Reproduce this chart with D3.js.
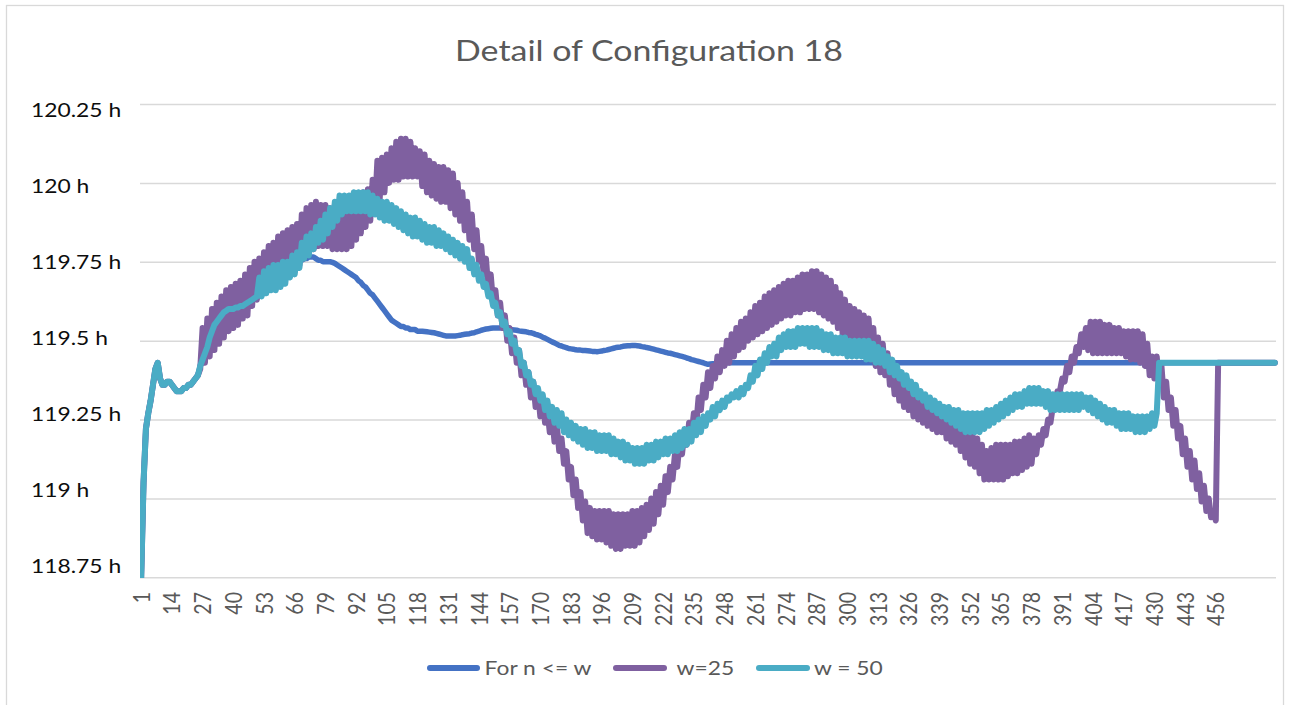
<!DOCTYPE html>
<html>
<head>
<meta charset="utf-8">
<script src="https://cdn.jsdelivr.net/npm/d3@7"></script>
<style>
  html, body { margin: 0; padding: 0; background: #ffffff; }
  svg { display: block; }
  text { font-family: Lato, "Open Sans", sans-serif; }
</style>
</head>
<body>
<svg id="chart" width="1291" height="705"></svg>
<script>
// ---- chart values -------------------------------------------------------
const chartTitle = "Detail of Configuration 18";
const seriesNames = ["For n <= w", "w=25", "w = 50"];
const yTicks = [118.75, 119, 119.25, 119.5, 119.75, 120, 120.25];
const xTickLabels = [1, 14, 27, 40, 53, 66, 79, 92, 105, 118, 131, 144, 157, 170, 183, 196, 209, 222,
  235, 248, 261, 274, 287, 300, 313, 326, 339, 352, 365, 378, 391, 404, 417, 430, 443, 456];

// "For n <= w" : one value per n (n = 1 … 481), in hours
const baseline = [
  118.75, 119.05, 119.22, 119.27, 119.31, 119.36, 119.41, 119.43, 119.38, 119.36, 119.36, 119.37, 119.37, 119.36, 119.35, 119.34, 119.34, 119.34, 119.35, 119.35,
  119.36, 119.36, 119.37, 119.38, 119.39, 119.42, 119.44, 119.46, 119.48, 119.51, 119.53, 119.55, 119.56, 119.57, 119.58, 119.59, 119.595, 119.60, 119.60, 119.60,
  119.605, 119.605, 119.61, 119.61, 119.615, 119.62, 119.625, 119.63, 119.635, 119.64, 119.645, 119.65, 119.655, 119.66, 119.67, 119.675, 119.68, 119.69, 119.695, 119.70,
  119.71, 119.715, 119.72, 119.73, 119.735, 119.74, 119.745, 119.75, 119.755, 119.76, 119.76, 119.765, 119.765, 119.765, 119.76, 119.755, 119.755, 119.75, 119.75, 119.75,
  119.75, 119.748, 119.745, 119.74, 119.735, 119.73, 119.725, 119.72, 119.715, 119.71, 119.705, 119.70, 119.69, 119.685, 119.675, 119.67, 119.66, 119.65, 119.645, 119.635,
  119.625, 119.615, 119.605, 119.595, 119.585, 119.575, 119.565, 119.56, 119.555, 119.55, 119.545, 119.545, 119.54, 119.54, 119.535, 119.535, 119.535, 119.53, 119.53, 119.53,
  119.529, 119.528, 119.527, 119.526, 119.525, 119.523, 119.521, 119.519, 119.517, 119.515, 119.515, 119.515, 119.515, 119.515, 119.516, 119.517, 119.519, 119.52, 119.521, 119.522,
  119.524, 119.525, 119.528, 119.53, 119.533, 119.535, 119.537, 119.538, 119.539, 119.54, 119.54, 119.54, 119.54, 119.54, 119.539, 119.538, 119.536, 119.535, 119.534, 119.533,
  119.531, 119.53, 119.529, 119.528, 119.526, 119.525, 119.523, 119.52, 119.518, 119.515, 119.511, 119.508, 119.504, 119.50, 119.496, 119.493, 119.489, 119.485, 119.483, 119.48,
  119.478, 119.475, 119.474, 119.473, 119.471, 119.47, 119.47, 119.469, 119.469, 119.468, 119.467, 119.466, 119.466, 119.465, 119.466, 119.467, 119.469, 119.47, 119.472, 119.474,
  119.476, 119.478, 119.479, 119.48, 119.482, 119.483, 119.484, 119.484, 119.485, 119.485, 119.484, 119.483, 119.481, 119.48, 119.478, 119.477, 119.475, 119.473, 119.471, 119.469,
  119.467, 119.465, 119.463, 119.461, 119.46, 119.458, 119.456, 119.454, 119.452, 119.45, 119.448, 119.445, 119.443, 119.44, 119.438, 119.436, 119.434, 119.432, 119.43, 119.427,
  119.425, 119.426, 119.427, 119.428, 119.43, 119.43, 119.43, 119.43, 119.43, 119.43, 119.43, 119.43, 119.43, 119.43, 119.43, 119.43, 119.43, 119.43, 119.43, 119.43,
  119.43, 119.43, 119.43, 119.43, 119.43, 119.43, 119.43, 119.43, 119.43, 119.43, 119.43, 119.43, 119.43, 119.43, 119.43, 119.43, 119.43, 119.43, 119.43, 119.43,
  119.43, 119.43, 119.43, 119.43, 119.43, 119.43, 119.43, 119.43, 119.43, 119.43, 119.43, 119.43, 119.43, 119.43, 119.43, 119.43, 119.43, 119.43, 119.43, 119.43,
  119.43, 119.43, 119.43, 119.43, 119.43, 119.43, 119.43, 119.43, 119.43, 119.43, 119.43, 119.43, 119.43, 119.43, 119.43, 119.43, 119.43, 119.43, 119.43, 119.43,
  119.43, 119.43, 119.43, 119.43, 119.43, 119.43, 119.43, 119.43, 119.43, 119.43, 119.43, 119.43, 119.43, 119.43, 119.43, 119.43, 119.43, 119.43, 119.43, 119.43,
  119.43, 119.43, 119.43, 119.43, 119.43, 119.43, 119.43, 119.43, 119.43, 119.43, 119.43, 119.43, 119.43, 119.43, 119.43, 119.43, 119.43, 119.43, 119.43, 119.43,
  119.43, 119.43, 119.43, 119.43, 119.43, 119.43, 119.43, 119.43, 119.43, 119.43, 119.43, 119.43, 119.43, 119.43, 119.43, 119.43, 119.43, 119.43, 119.43, 119.43,
  119.43, 119.43, 119.43, 119.43, 119.43, 119.43, 119.43, 119.43, 119.43, 119.43, 119.43, 119.43, 119.43, 119.43, 119.43, 119.43, 119.43, 119.43, 119.43, 119.43,
  119.43, 119.43, 119.43, 119.43, 119.43, 119.43, 119.43, 119.43, 119.43, 119.43, 119.43, 119.43, 119.43, 119.43, 119.43, 119.43, 119.43, 119.43, 119.43, 119.43,
  119.43, 119.43, 119.43, 119.43, 119.43, 119.43, 119.43, 119.43, 119.43, 119.43, 119.43, 119.43, 119.43, 119.43, 119.43, 119.43, 119.43, 119.43, 119.43, 119.43,
  119.43, 119.43, 119.43, 119.43, 119.43, 119.43, 119.43, 119.43, 119.43, 119.43, 119.43, 119.43, 119.43, 119.43, 119.43, 119.43, 119.43, 119.43, 119.43, 119.43,
  119.43, 119.43, 119.43, 119.43, 119.43, 119.43, 119.43, 119.43, 119.43, 119.43, 119.43, 119.43, 119.43, 119.43, 119.43, 119.43, 119.43, 119.43, 119.43, 119.43,
  119.43
];

// w=25 : values for n = 26 … 456 (outside that range the series equals the baseline)
const w25Mid = [
  119.41, 119.54, 119.43, 119.57, 119.45,
  119.60, 119.47, 119.62, 119.49, 119.64, 119.51, 119.66, 119.53, 119.67, 119.54,
  119.68, 119.55, 119.69, 119.57, 119.71, 119.58, 119.73, 119.61, 119.75, 119.63,
  119.76, 119.66, 119.78, 119.67, 119.80, 119.68, 119.81, 119.69, 119.83, 119.69,
  119.84, 119.70, 119.85, 119.71, 119.86, 119.72, 119.87, 119.74, 119.90, 119.76,
  119.92, 119.78, 119.93, 119.79, 119.94, 119.80, 119.93, 119.80, 119.93, 119.80,
  119.92, 119.79, 119.93, 119.79, 119.93, 119.79, 119.93, 119.79, 119.93, 119.80,
  119.94, 119.82, 119.96, 119.84, 119.97, 119.86, 119.98, 119.88, 120.01, 119.92,
  120.07, 119.95, 120.08, 119.97, 120.09, 120.00, 120.11, 120.01, 120.13, 120.01,
  120.14, 120.02, 120.14, 120.02, 120.13, 120.02, 120.11, 120.02, 120.10, 119.99,
  120.09, 119.97, 120.07, 119.96, 120.06, 119.95, 120.05, 119.94, 120.05, 119.94,
  120.04, 119.92, 120.03, 119.90, 120.00, 119.88, 119.97, 119.85, 119.94, 119.82,
  119.90, 119.79, 119.85, 119.75, 119.80, 119.71, 119.76, 119.66, 119.71, 119.62,
  119.66, 119.58, 119.62, 119.54, 119.58, 119.50, 119.54, 119.46, 119.51, 119.43,
  119.47, 119.39, 119.43, 119.36, 119.40, 119.32, 119.37, 119.29, 119.34, 119.26,
  119.31, 119.24, 119.28, 119.21, 119.26, 119.18, 119.23, 119.15, 119.19, 119.11,
  119.15, 119.06, 119.10, 119.01, 119.06, 118.97, 119.02, 118.93, 118.99, 118.89,
  118.97, 118.88, 118.96, 118.87, 118.96, 118.87, 118.96, 118.86, 118.96, 118.85,
  118.95, 118.84, 118.95, 118.84, 118.95, 118.85, 118.95, 118.85, 118.96, 118.85,
  118.96, 118.86, 118.97, 118.88, 118.98, 118.90, 119.00, 118.92, 119.02, 118.95,
  119.04, 118.98, 119.07, 119.02, 119.10, 119.06, 119.14, 119.10, 119.18, 119.14,
  119.21, 119.17, 119.24, 119.20, 119.27, 119.23, 119.32, 119.28, 119.36, 119.32,
  119.40, 119.35, 119.42, 119.38, 119.45, 119.40, 119.47, 119.42, 119.50, 119.43,
  119.52, 119.45, 119.54, 119.47, 119.56, 119.48, 119.57, 119.50, 119.59, 119.51,
  119.61, 119.52, 119.62, 119.53, 119.64, 119.54, 119.65, 119.55, 119.66, 119.56,
  119.67, 119.57, 119.68, 119.58, 119.69, 119.58, 119.69, 119.59, 119.70, 119.59,
  119.71, 119.60, 119.71, 119.60, 119.72, 119.60, 119.72, 119.59, 119.71, 119.58,
  119.70, 119.57, 119.69, 119.56, 119.67, 119.54, 119.65, 119.52, 119.63, 119.50,
  119.61, 119.49, 119.60, 119.48, 119.59, 119.47, 119.58, 119.46, 119.57, 119.44,
  119.54, 119.42, 119.51, 119.40, 119.49, 119.39, 119.46, 119.36, 119.42, 119.33,
  119.39, 119.31, 119.37, 119.29, 119.35, 119.28, 119.34, 119.26, 119.33, 119.25,
  119.31, 119.24, 119.30, 119.23, 119.29, 119.22, 119.29, 119.21, 119.28, 119.21,
  119.27, 119.19, 119.26, 119.18, 119.25, 119.17, 119.24, 119.15, 119.22, 119.13,
  119.21, 119.11, 119.20, 119.10, 119.19, 119.08, 119.17, 119.06, 119.15, 119.06,
  119.16, 119.06, 119.17, 119.06, 119.17, 119.06, 119.17, 119.07, 119.17, 119.08,
  119.18, 119.08, 119.18, 119.09, 119.19, 119.10, 119.20, 119.11, 119.19, 119.14,
  119.20, 119.17, 119.22, 119.20, 119.25, 119.24, 119.29, 119.30, 119.34, 119.34,
  119.38, 119.37, 119.42, 119.40, 119.45, 119.43, 119.48, 119.46, 119.52, 119.48,
  119.54, 119.47, 119.56, 119.46, 119.56, 119.46, 119.56, 119.46, 119.55, 119.46,
  119.55, 119.46, 119.54, 119.46, 119.54, 119.46, 119.53, 119.45, 119.53, 119.44,
  119.53, 119.44, 119.53, 119.43, 119.52, 119.42, 119.49, 119.39, 119.45, 119.38,
  119.45, 119.36, 119.42, 119.32, 119.37, 119.28, 119.32, 119.23, 119.28, 119.19,
  119.23, 119.14, 119.19, 119.10, 119.15, 119.06, 119.12, 119.03, 119.08, 118.99,
  119.04, 118.96, 119.00, 118.94, 118.96, 118.93
];

// w = 50 : values for n = 51 … 431 (outside that range the series equals the baseline)
const w50Mid = [
  119.70, 119.64, 119.72, 119.65, 119.73, 119.66, 119.74, 119.66, 119.74, 119.67,
  119.75, 119.68, 119.75, 119.70, 119.77, 119.71, 119.78, 119.73, 119.81, 119.76,
  119.83, 119.77, 119.84, 119.79, 119.86, 119.81, 119.88, 119.82, 119.90, 119.84,
  119.92, 119.86, 119.94, 119.88, 119.96, 119.90, 119.96, 119.91, 119.96, 119.91,
  119.97, 119.91, 119.97, 119.91, 119.97, 119.91, 119.97, 119.90, 119.96, 119.90,
  119.95, 119.89, 119.94, 119.88, 119.94, 119.88, 119.93, 119.87, 119.92, 119.86,
  119.91, 119.85, 119.90, 119.84, 119.89, 119.83, 119.89, 119.83, 119.88, 119.82,
  119.87, 119.81, 119.86, 119.81, 119.86, 119.80, 119.85, 119.80, 119.84, 119.79,
  119.83, 119.78, 119.82, 119.77, 119.81, 119.76, 119.80, 119.75, 119.79, 119.73,
  119.76, 119.71, 119.74, 119.69, 119.71, 119.67, 119.68, 119.64, 119.65, 119.61,
  119.62, 119.58, 119.59, 119.55, 119.56, 119.52, 119.53, 119.49, 119.50, 119.46,
  119.47, 119.42, 119.43, 119.39, 119.40, 119.36, 119.37, 119.33, 119.35, 119.31,
  119.33, 119.28, 119.31, 119.26, 119.29, 119.24, 119.28, 119.23, 119.27, 119.21,
  119.25, 119.20, 119.24, 119.19, 119.23, 119.18, 119.22, 119.17, 119.22, 119.16,
  119.21, 119.16, 119.21, 119.15, 119.20, 119.15, 119.20, 119.15, 119.20, 119.14,
  119.19, 119.14, 119.18, 119.13, 119.18, 119.12, 119.17, 119.12, 119.16, 119.11,
  119.16, 119.11, 119.16, 119.11, 119.17, 119.12, 119.17, 119.12, 119.18, 119.13,
  119.18, 119.14, 119.19, 119.14, 119.19, 119.15, 119.20, 119.15, 119.21, 119.16,
  119.22, 119.17, 119.22, 119.18, 119.24, 119.20, 119.25, 119.21, 119.26, 119.23,
  119.27, 119.25, 119.29, 119.26, 119.30, 119.28, 119.31, 119.29, 119.32, 119.31,
  119.33, 119.32, 119.34, 119.32, 119.35, 119.33, 119.36, 119.35, 119.39, 119.37,
  119.42, 119.39, 119.44, 119.41, 119.46, 119.43, 119.48, 119.45, 119.49, 119.45,
  119.51, 119.47, 119.52, 119.48, 119.53, 119.48, 119.53, 119.48, 119.54, 119.49,
  119.54, 119.49, 119.54, 119.48, 119.54, 119.48, 119.54, 119.48, 119.53, 119.47,
  119.52, 119.47, 119.52, 119.46, 119.51, 119.46, 119.51, 119.46, 119.51, 119.45,
  119.50, 119.45, 119.50, 119.45, 119.50, 119.45, 119.50, 119.44, 119.50, 119.44,
  119.49, 119.43, 119.48, 119.43, 119.47, 119.42, 119.45, 119.40, 119.44, 119.39,
  119.42, 119.38, 119.40, 119.36, 119.39, 119.35, 119.37, 119.33, 119.36, 119.32,
  119.34, 119.31, 119.33, 119.29, 119.32, 119.28, 119.31, 119.27, 119.30, 119.26,
  119.29, 119.25, 119.29, 119.24, 119.28, 119.23, 119.28, 119.22, 119.27, 119.21,
  119.27, 119.21, 119.27, 119.21, 119.27, 119.21, 119.27, 119.22, 119.28, 119.23,
  119.28, 119.24, 119.29, 119.25, 119.30, 119.26, 119.31, 119.27, 119.32, 119.28,
  119.33, 119.29, 119.33, 119.29, 119.34, 119.30, 119.35, 119.30, 119.35, 119.30,
  119.35, 119.30, 119.34, 119.29, 119.34, 119.28, 119.33, 119.28, 119.33, 119.28,
  119.33, 119.28, 119.33, 119.28, 119.33, 119.28, 119.33, 119.28, 119.33, 119.29,
  119.32, 119.28, 119.32, 119.27, 119.31, 119.26, 119.30, 119.25, 119.29, 119.24,
  119.28, 119.24, 119.28, 119.23, 119.27, 119.22, 119.27, 119.22, 119.27, 119.22,
  119.26, 119.21, 119.26, 119.21, 119.26, 119.21, 119.26, 119.22, 119.27, 119.23,
  119.27
];

// ---- series assembly: each windowed series follows the baseline where n <= w
const categories = d3.range(1, baseline.length + 1);
const w25 = baseline.slice(0, 25).concat(w25Mid, baseline.slice(25 + w25Mid.length));
const w50 = baseline.slice(0, 50).concat(w50Mid, baseline.slice(50 + w50Mid.length));
const seriesValues = [baseline, w25, w50];
const seriesColors = ["#4472C4", "#7F60A0", "#4AACC5"];
const seriesWidths = [5.5, 6, 6];

// ---- layout ---------------------------------------------------------------
const W = 1291, H = 705;
const plot = { left: 140, right: 1276, top: 104, bottom: 577.3 };
const TEXT_STRETCH = 1.17;   // glyphs are drawn slightly widened

const svg = d3.select("#chart");

// chart-area border
svg.append("rect")
  .attr("x", 6.5).attr("y", 5.5)
  .attr("width", 1277).attr("height", 720)
  .attr("fill", "#ffffff")
  .attr("stroke", "#d9d9d9").attr("stroke-width", 1.3);

const x = d3.scaleBand().domain(categories).range([plot.left, plot.right]).paddingInner(0).paddingOuter(0);
const cx = d => x(d) + x.bandwidth() / 2;
const y = d3.scaleLinear().domain([118.75, 120.25]).range([plot.bottom, plot.top]);
// the value labels sit on a slightly tighter ladder than the gridlines
const yLabel = d3.scaleLinear().domain([118.75, 120.25]).range([566, 110]);

// horizontal gridlines
const grid = svg.append("g")
  .attr("transform", `translate(${plot.left},0)`)
  .call(d3.axisLeft(y).tickValues(yTicks).tickSize(-(plot.right - plot.left)).tickFormat(""));
grid.select(".domain").remove();
grid.selectAll(".tick line").attr("stroke", "#d9d9d9").attr("stroke-width", 1.5);

// y-axis labels (left aligned)
svg.append("g").selectAll("text")
  .data(yTicks)
  .join("text")
  .attr("transform", d => `translate(31,${yLabel(d)}) scale(${TEXT_STRETCH},1)`)
  .attr("dominant-baseline", "central")
  .attr("font-size", 19.5)
  .attr("fill", "#0d0d0d")
  .text(d => `${d} h`);

// x-axis category labels (rotated)
svg.append("g").selectAll("text")
  .data(xTickLabels)
  .join("text")
  .attr("transform", d => `translate(${cx(d)},592) scale(${TEXT_STRETCH},1) rotate(-90)`)
  .attr("text-anchor", "end")
  .attr("dominant-baseline", "central")
  .attr("font-size", 19.5)
  .attr("fill", "#595959")
  .text(d => d);

// series lines
svg.append("clipPath").attr("id", "plotClip")
  .append("rect").attr("x", plot.left).attr("y", 95)
  .attr("width", W - plot.left).attr("height", plot.bottom + 0.7 - 95);

const line = d3.line()
  .x((d, i) => cx(categories[i]))
  .y(d => y(d));

svg.append("g").attr("clip-path", "url(#plotClip)")
  .selectAll("path")
  .data(seriesValues)
  .join("path")
  .attr("d", d => line(d))
  .attr("fill", "none")
  .attr("stroke", (d, i) => seriesColors[i])
  .attr("stroke-width", (d, i) => seriesWidths[i])
  .attr("stroke-linejoin", "round")
  .attr("stroke-linecap", "round");

// title
svg.append("text")
  .attr("transform", `translate(649,50) scale(${TEXT_STRETCH},1)`)
  .attr("text-anchor", "middle")
  .attr("dominant-baseline", "central")
  .attr("font-size", 29)
  .attr("fill", "#595959")
  .text(chartTitle);

// legend
const legendItems = [
  { x1: 430, x2: 477, tx: 484.6 },
  { x1: 616, x2: 664, tx: 676.5 },
  { x1: 759, x2: 807, tx: 814 }
];
const legendY = 668;
const lg = svg.append("g");
legendItems.forEach((item, i) => {
  lg.append("line")
    .attr("x1", item.x1).attr("x2", item.x2)
    .attr("y1", legendY).attr("y2", legendY)
    .attr("stroke", seriesColors[i]).attr("stroke-width", 6)
    .attr("stroke-linecap", "round");
  lg.append("text")
    .attr("transform", `translate(${item.tx},${legendY}) scale(${TEXT_STRETCH},1)`)
    .attr("dominant-baseline", "central")
    .attr("font-size", 19.5)
    .attr("fill", "#595959")
    .text(seriesNames[i]);
});
</script>
</body>
</html>
